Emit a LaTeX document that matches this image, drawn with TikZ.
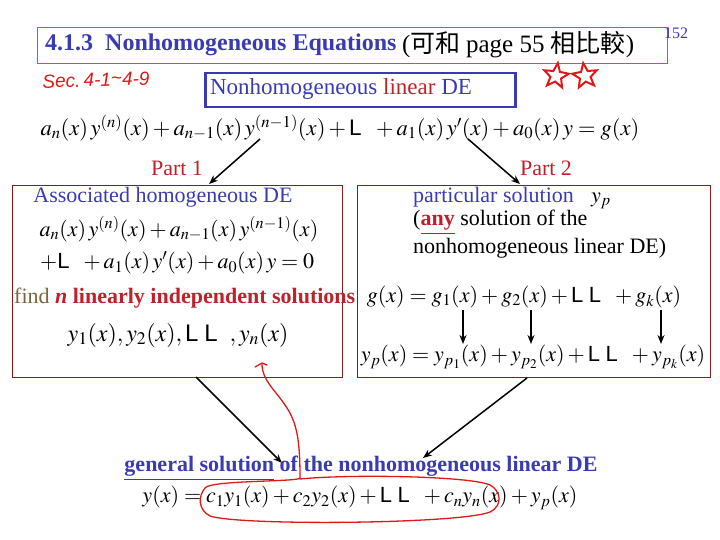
\documentclass[tikz,border=0pt]{standalone}
\usepackage{mathptmx}
\usepackage{fontspec}
\setmainfont{Liberation Serif}
\newfontfamily\arialf{Liberation Sans}
\newfontfamily\cjk{Noto Sans CJK TC}
\usetikzlibrary{shapes.geometric,arrows.meta}
\definecolor{tblue}{HTML}{3A3AB4}
\definecolor{pred}{HTML}{C0202A}
\definecolor{bred}{HTML}{8B1A1A}
\definecolor{tmag}{HTML}{C040C8}
\definecolor{olive}{HTML}{7A6440}
\definecolor{hred}{HTML}{E01818}
\newcommand{\Ldots}{\mbox{\arialf L}}
\tikzset{
  txt/.style={inner sep=0pt, font=\fontsize{22}{24}\selectfont},
  eqn/.style={inner sep=0pt, font=\fontsize{22}{24}\selectfont},
  eqbig/.style={inner sep=0pt, font=\fontsize{24}{26}\selectfont},
  arr/.style={draw=black, line width=1.5pt, -{Stealth[length=9pt,width=7pt]}},
  hand/.style={draw=hred, line width=1.3pt, line cap=round, line join=round},
}
\begin{document}
\begin{tikzpicture}[x=1pt,y=-1pt]
\useasboundingbox (0,0) rectangle (720,540);
% title
\node[draw=tmag, line width=1pt, minimum width=630pt, minimum height=36pt, anchor=north west, inner sep=0pt] (tbox) at (37,27) {};
\node[inner sep=0pt, anchor=west, text=tblue, font=\fontsize{24}{26}\selectfont\bfseries] (ttl) at (45,45) {4.1.3\ \ Nonhomogeneous Equations};
\node[inner sep=0pt, anchor=west, font=\fontsize{25}{27}\selectfont] (ttl2) at (402,45) {(\cjk 可和\ \rmfamily page 55 \cjk 相比較\rmfamily)};
\node[inner sep=0pt, text=tblue, font=\fontsize{16}{18}\selectfont] (pg) at (676,33) {152};
% handwritten notes
\node[inner sep=0pt, text=hred, font=\arialf\fontsize{19}{20}\selectfont\itshape, rotate=2] (sec) at (96,80) {Sec.\,4-1\raisebox{2pt}{\textasciitilde}4-9};
\node[star, star points=5, star point ratio=2.3, draw=hred, line width=2pt, minimum size=26pt, inner sep=0pt, rotate=-8] (st1) at (556,76) {};
\node[star, star points=5, star point ratio=2.3, draw=hred, line width=2pt, minimum size=26pt, inner sep=0pt, rotate=8] (st2) at (585,76) {};
% nonhomogeneous linear DE box
\node[draw=tblue, line width=2.5pt, minimum width=310pt, minimum height=34pt, anchor=north west, inner sep=0pt] (nbox) at (204,72) {};
\node[inner sep=0pt, font=\fontsize{23}{25}\selectfont] (ntext) at (341,89) {\textcolor{tblue}{Nonhomogeneous} \textcolor{pred}{linear} \textcolor{tblue}{DE}};
% top equation
\node[inner sep=0pt, font=\fontsize{22.5}{25}\selectfont] (eq) at (340,128) {$a_n(x)\,y^{(n)}(x)+a_{n-1}(x)\,y^{(n-1)}(x)+\Ldots\ \ +a_1(x)\,y'(x)+a_0(x)\,y=g(x)$};
% parts
\node[txt, text=pred] (p1) at (177,168) {Part 1};
\node[txt, text=pred] (p2) at (546,168) {Part 2};
\coordinate (a1s) at (260,139); \coordinate (a1e) at (209,184);
\coordinate (a2s) at (468,139); \coordinate (a2e) at (520,184);
\draw[arr] (a1s) -- (a1e);
\draw[arr] (a2s) -- (a2e);
% left box
\node[draw=bred, line width=0.8pt, minimum width=330pt, minimum height=192pt, anchor=north west, inner sep=0pt] (lbox) at (12,185) {};
\node[txt, text=tblue] (assoc) at (163,197) {Associated homogeneous DE};
\node[eqn] (leq1) at (179,229) {$a_n(x)\,y^{(n)}(x)+a_{n-1}(x)\,y^{(n-1)}(x)$};
\node[eqn, anchor=west] (leq2) at (40,263) {$+\Ldots\ \ +a_1(x)\,y'(x)+a_0(x)\,y=0$};
\node[txt, anchor=west] (find) at (14,298) {\textcolor{olive}{find} \textcolor{pred}{\bfseries\itshape n \upshape linearly independent solutions}};
\node[eqbig] (ysol) at (178,335) {$y_1(x),y_2(x),\Ldots\ \Ldots\ \ ,y_n(x)$};
% right box
\node[draw=bred, line width=0.8pt, minimum width=353pt, minimum height=192pt, anchor=north west, inner sep=0pt] (rbox) at (357,185) {};
\node[txt, anchor=west, text=tblue] (part) at (413,197) {particular solution};
\node[eqn] (yp) at (601,201) {$y_p$};
\node[txt, anchor=west] (any) at (413,222) {(\textcolor{pred}{\bfseries\underline{any}} solution of the};
\node[txt, anchor=west] (nlde) at (413,248) {nonhomogeneous linear DE)};
\node[eqn] (geq) at (524,297) {$g(x)=g_1(x)+g_2(x)+\Ldots\ \Ldots\ \ +g_k(x)$};
\node[eqn] (ypeq) at (533,357) {$y_p(x)=y_{p_1}(x)+y_{p_2}(x)+\Ldots\ \Ldots\ \ +y_{p_k}(x)$};
\foreach \xx/\nm in {463/a, 531/b, 661/c}{
  \coordinate (d\nm s) at (\xx,310); \coordinate (d\nm e) at (\xx,344);
  \draw[arr] (d\nm s) -- (d\nm e);
}
% general solution
\coordinate (g1s) at (196,377); \coordinate (g1e) at (282,463);
\coordinate (g2s) at (527,378); \coordinate (g2e) at (423,458);
\draw[arr] (g1s) -- (g1e);
\draw[arr] (g2s) -- (g2e);
\node[txt, text=tblue, font=\fontsize{22}{24}\selectfont\bfseries] (gen) at (361,468) {\underline{general solution} of the nonhomogeneous linear DE};
\node[eqn] (feq) at (360,498) {$y(x)=c_1y_1(x)+c_2y_2(x)+\Ldots\ \Ldots\ \ +c_ny_n(x)+y_p(x)$};
% red handwritten curve
\draw[hand] (255,367) -- (262,363) -- (267,365);
\draw[hand] (262,364) .. controls (262,380) and (275,390) .. (285,405)
  .. controls (297,422) and (300,440) .. (300,478)
  .. controls (300,482) and (210,480) .. (205,488)
  .. controls (198,496) and (198,510) .. (210,516)
  .. controls (240,526) and (460,524) .. (490,512)
  .. controls (504,505) and (500,490) .. (490,485)
  .. controls (470,476) and (350,474) .. (300,479);
\end{tikzpicture}
\end{document}
